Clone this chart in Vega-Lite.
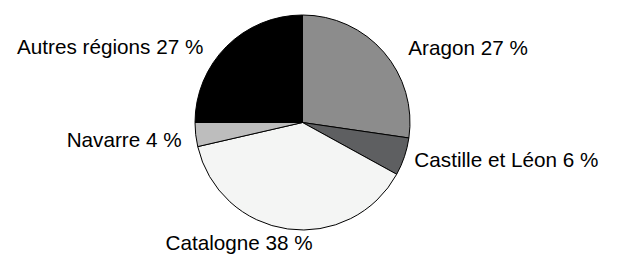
{
  "$schema": "https://vega.github.io/schema/vega-lite/v6.json",
  "autosize": "none",
  "width": 215,
  "height": 215,
  "padding": {"left": 195, "top": 15, "right": 207, "bottom": 25},
  "background": "white",
  "config": {"view": {"stroke": null}},
  "data": {
    "values": [
      {"rank": 1, "region": "Aragon", "label": "Aragon 27 %", "value": 27.3},
      {"rank": 2, "region": "Castille et Léon", "label": "Castille et Léon 6 %", "value": 5.7},
      {"rank": 3, "region": "Catalogne", "label": "Catalogne 38 %", "value": 38.4},
      {"rank": 4, "region": "Navarre", "label": "Navarre 4 %", "value": 3.6},
      {"rank": 5, "region": "Autres régions", "label": "Autres régions 27 %", "value": 25.0}
    ]
  },
  "transform": [
    {"stack": "value", "groupby": [], "sort": [{"field": "rank", "order": "ascending"}], "as": ["v0", "v1"]}
  ],
  "layer": [
    {
      "mark": {"type": "arc", "outerRadius": 107.5, "stroke": "#000000", "strokeWidth": 1},
      "encoding": {
        "theta": {"field": "v0", "type": "quantitative", "scale": {"domain": [0, 100]}},
        "theta2": {"field": "v1"},
        "color": {
          "field": "region",
          "type": "nominal",
          "scale": {
            "domain": ["Aragon", "Castille et Léon", "Catalogne", "Navarre", "Autres régions"],
            "range": ["#8c8c8c", "#5e5f61", "#f4f5f4", "#bdbdbd", "#000000"]
          },
          "legend": null
        }
      }
    },
    {
      "transform": [{"filter": "datum.region === 'Aragon'"}],
      "mark": {"type": "text", "radius": 120, "align": "left", "baseline": "alphabetic", "dx": 105.8, "dy": 52, "font": "Liberation Sans", "fontSize": 20.7, "color": "#000000"},
      "encoding": {
        "theta": {"field": "v0", "type": "quantitative"},
        "text": {"field": "label"}
      }
    },
    {
      "transform": [{"filter": "datum.region === 'Castille et Léon'"}],
      "mark": {"type": "text", "radius": 120, "align": "left", "baseline": "alphabetic", "dx": -6.9, "dy": 26.9, "font": "Liberation Sans", "fontSize": 20.7, "color": "#000000"},
      "encoding": {
        "theta": {"field": "v0", "type": "quantitative"},
        "text": {"field": "label"}
      }
    },
    {
      "transform": [{"filter": "datum.region === 'Catalogne'"}],
      "mark": {"type": "text", "radius": 120, "align": "center", "baseline": "alphabetic", "dx": -168.5, "dy": 69.4, "font": "Liberation Sans", "fontSize": 20.7, "color": "#000000"},
      "encoding": {
        "theta": {"field": "v0", "type": "quantitative"},
        "text": {"field": "label"}
      }
    },
    {
      "transform": [{"filter": "datum.region === 'Navarre'"}],
      "mark": {"type": "text", "radius": 120, "align": "right", "baseline": "alphabetic", "dx": -3.9, "dy": -2.7, "font": "Liberation Sans", "fontSize": 20.7, "color": "#000000"},
      "encoding": {
        "theta": {"field": "v0", "type": "quantitative"},
        "text": {"field": "label"}
      }
    },
    {
      "transform": [{"filter": "datum.region === 'Autres régions'"}],
      "mark": {"type": "text", "radius": 120, "align": "right", "baseline": "alphabetic", "dx": 20.8, "dy": -68.2, "font": "Liberation Sans", "fontSize": 20.7, "color": "#000000"},
      "encoding": {
        "theta": {"field": "v0", "type": "quantitative"},
        "text": {"field": "label"}
      }
    }
  ]
}
